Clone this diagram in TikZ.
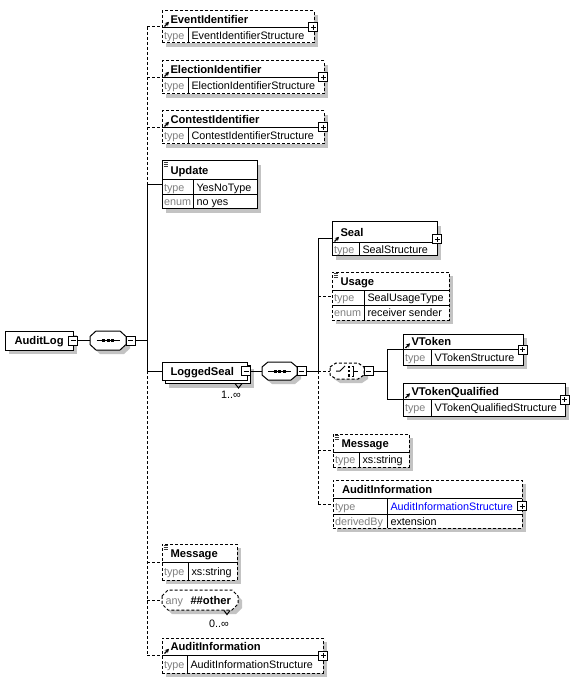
\documentclass[tikz,border=0pt]{standalone}
\usepackage{fontspec}
\setmainfont{Liberation Sans}
\usetikzlibrary{arrows.meta}
\definecolor{shadowc}{RGB}{195,195,195}
\definecolor{graytxt}{RGB}{128,128,128}
\definecolor{xsblue}{RGB}{0,0,255}
\definecolor{icong}{RGB}{60,60,60}
% element box with shadow: name, style, L, T, R, B
\newcommand\ebox[6]{%
  \fill[shadowc] (#3+4,#4+4) rectangle (#5+4,#6+4);
  \node[boxn,#2,minimum width={(#5-#3)*0.75pt},minimum height={(#6-#4)*0.75pt}] (#1) at ({(#3+#5)/2},{(#4+#6)/2}) {};}
\newcommand\hd[3]{\draw (#1,#3) -- (#2,#3);}
\newcommand\vd[3]{\draw (#1,#2) -- (#1,#3);}
\newcommand\ttl[4]{\node[ttlf,anchor=base west] (#1) at (#2,#3) {#4};}
\newcommand\trow[6]{\node[lblf,anchor=base west] (#1l) at (#2+1.5,#4) {#5};\node[valf,anchor=base west] (#1v) at (#3+3,#4) {#6};}
\newcommand\plusb[3]{\node[btn] (#1) at (#2,#3) {};\draw (#2-2.5,#3) -- (#2+2.5,#3) (#2,#3-2.5) -- (#2,#3+2.5);}
\newcommand\minusb[3]{\node[btn] (#1) at (#2,#3) {};\draw (#2-2.5,#3) -- (#2+2.5,#3);}
\newcommand\refic[2]{\draw[line width=0.9pt,-{Stealth[length=3pt,width=3.2pt]}] (#1+2.5,#2-1.5) -- (#1+7,#2-6.2);}
\newcommand\simic[2]{\draw[line width=0.55pt,icong] (#1+1.5,#2+1.8) -- +(4.5,0) (#1+1.5,#2+3.4) -- +(4.5,0) (#1+1.5,#2+5) -- +(4.5,0);}
\newcommand\octo[5]{\path[#1] (#2,{(#3+#5)/2-4}) -- (#2+6,#3) -- (#4-6,#3) -- (#4,{(#3+#5)/2-4}) -- (#4,{(#3+#5)/2+4}) -- (#4-6,#5) -- (#2+6,#5) -- (#2,{(#3+#5)/2+4}) -- cycle;}
\newcommand\seqsym[2]{\draw (#1-11.5,#2) -- (#1+11.5,#2);
  \fill (#1-6,#2-1.5) rectangle (#1-3,#2+1.5);
  \fill (#1-1.5,#2-1.5) rectangle (#1+1.5,#2+1.5);
  \fill (#1+3,#2-1.5) rectangle (#1+6,#2+1.5);}
\begin{document}
\begin{tikzpicture}[x=0.75pt,y=-0.75pt,line width=0.75pt,
  boxn/.style={draw,fill=white,inner sep=0,outer sep=0},
  dsh/.style={dash pattern=on 2.25pt off 1.5pt},
  btn/.style={draw,fill=white,inner sep=0,outer sep=0,minimum size=6.75pt,line width=0.75pt},
  inv/.style={inner sep=0,outer sep=0},
  ttlf/.style={font=\fontsize{8.4}{10}\selectfont\bfseries,inner sep=0},
  lblf/.style={font=\fontsize{8.1}{10}\selectfont,text=graytxt,inner sep=0},
  valf/.style={font=\fontsize{8.1}{10}\selectfont,inner sep=0}]
\useasboundingbox (0,0) rectangle (578,691);
\coordinate (bus1) at (147,0);
\coordinate (bus2) at (318,0);
\coordinate (bus3) at (387,0);

% ---------- root ----------
\ebox{root}{}{5}{331}{73}{350}
\ttl{roott}{14}{344.5}{AuditLog}
\minusb{rootm}{73}{340.5}

% sequence 1
\octo{fill=shadowc,shift={(4,4)}}{90}{331}{126}{350}
\octo{draw,fill=white}{90}{331}{126}{350}
\node[inv,minimum width={36*0.75pt},minimum height={19*0.75pt}] (seq1) at (108,340.5) {};
\seqsym{108}{340.5}
\minusb{s1m}{130.5}{340.5}

% ---------- level 1 ----------
\ebox{ev}{dsh}{162}{11}{314}{43}
\hd{162}{314}{28}\vd{188}{28}{43}
\refic{162}{28}
\ttl{evt}{170}{23.5}{EventIdentifier}
\trow{evr}{162}{188}{39.5}{type}{EventIdentifierStructure}
\plusb{evp}{313}{27.5}

\ebox{el}{dsh}{162}{61}{324}{94}
\hd{162}{324}{78}\vd{188}{78}{94}
\refic{162}{78}
\ttl{elt}{170}{73.5}{ElectionIdentifier}
\trow{elr}{162}{188}{90}{type}{ElectionIdentifierStructure}
\plusb{elp}{323}{77.5}

\ebox{ct}{dsh}{162}{111}{324}{144}
\hd{162}{324}{128}\vd{188}{128}{144}
\refic{162}{128}
\ttl{ctt}{170}{123.5}{ContestIdentifier}
\trow{ctr}{162}{188}{140}{type}{ContestIdentifierStructure}
\plusb{ctp}{323}{127.5}

\ebox{upd}{}{162}{161}{257}{209}
\hd{162}{257}{180}\hd{162}{257}{194.5}\vd{193}{180}{209}
\simic{162}{161}
\ttl{updt}{170}{174.5}{Update}
\trow{upa}{162}{193}{191.25}{type}{YesNoType}
\trow{upb}{162}{193}{205.75}{enum}{no yes}

% LoggedSeal (multiple)
\fill[shadowc] (169,369) rectangle (254,388);
\node[boxn,minimum width={85*0.75pt},minimum height={18*0.75pt}] (lsback) at (207.5,374) {};
\node[boxn,minimum width={85*0.75pt},minimum height={18*0.75pt}] (ls) at (204.5,371) {};
\ttl{lst}{170}{375}{LoggedSeal}
\minusb{lsm}{246}{371}
\draw (235,383.5) -- (238.5,388) -- (242,383.5);
\node[valf] (lsc) at (231,394.5) {1..∞};

\ebox{ml}{dsh}{162}{544}{237}{580}
\hd{162}{237}{562}\vd{188}{562}{580}
\simic{162}{544}
\ttl{mlt}{170}{557}{Message}
\trow{mlr}{162}{188}{575}{type}{xs:string}

\octo{fill=shadowc,shift={(4,4)}}{162}{590}{238}{610}
\octo{draw,dsh,fill=white}{162}{590}{238}{610}
\node[inv,minimum width={76*0.75pt},minimum height={20*0.75pt}] (any) at (200,600) {};
\node[lblf,anchor=base west] (anyl) at (165,604) {any};
\node[ttlf,anchor=base west] (anyt) at (190,604) {\#\#other};
\draw (224,610.5) -- (227,614.5) -- (230,610.5);
\node[valf] (anyc) at (219,624) {0..∞};

\ebox{ail}{dsh}{162}{638}{323}{673}
\hd{162}{323}{655}\vd{187}{655}{673}
\refic{162}{655}
\ttl{ailt}{170}{650.5}{AuditInformation}
\trow{ailr}{162}{187}{668}{type}{AuditInformationStructure}
\plusb{ailp}{323}{655.5}

% ---------- level 2 ----------
\octo{fill=shadowc,shift={(4,4)}}{262}{362}{297}{380}
\octo{draw,fill=white}{262}{362}{297}{380}
\node[inv,minimum width={35*0.75pt},minimum height={18*0.75pt}] (seq2) at (279.5,371) {};
\seqsym{279.5}{371}
\minusb{s2m}{301.5}{371}

\ebox{seal}{}{332}{222}{437}{256}
\hd{332}{437}{243}\vd{359}{243}{256}
\refic{332}{243}
\ttl{sealt}{340}{236.5}{Seal}
\trow{sealr}{332}{359}{253.5}{type}{SealStructure}
\plusb{sealp}{437}{239.5}

\ebox{us}{dsh}{332}{272}{449}{320}
\hd{332}{449}{290}\hd{332}{449}{305.5}\vd{364}{290}{320}
\simic{332}{272}
\ttl{ust}{340}{285}{Usage}
\trow{usa}{332}{364}{301.75}{type}{SealUsageType}
\trow{usb}{332}{364}{316.75}{enum}{receiver sender}

% choice
\octo{fill=shadowc,shift={(4,4)}}{330}{363}{364}{379}
\octo{draw,dsh,fill=white}{330}{363}{364}{379}
\node[inv,minimum width={34*0.75pt},minimum height={16*0.75pt}] (ch) at (347,371) {};
\draw (336,371) -- (340,371) -- (345,366);
\fill (347.5,365.5) rectangle (350,368);
\fill (347.5,369.8) rectangle (350,372.3);
\fill (347.5,374) rectangle (350,376.5);
\draw (351.5,366.5) -- (353.5,366.5) -- (353.5,376) -- (351.5,376);
\draw (353.5,371) -- (358,371);
\minusb{chm}{368.5}{371}

\ebox{mr}{dsh}{333}{434}{409}{467}
\hd{333}{409}{452}\vd{359}{452}{467}
\simic{333}{434}
\ttl{mrt}{341}{447}{Message}
\trow{mrr}{333}{359}{463.5}{type}{xs:string}

\ebox{air}{dsh}{333}{480}{522}{528}
\hd{333}{522}{498}\hd{333}{522}{514}\vd{387}{498}{528}
\ttl{airt}{341.5}{493}{AuditInformation}
\trow{aira}{333}{387}{510}{type}{\textcolor{xsblue}{AuditInformationStructure}}
\trow{airb}{333}{387}{525}{derivedBy}{extension}
\plusb{airp}{522}{506}

% ---------- level 3 ----------
\ebox{vt}{}{403}{334}{523}{365}
\hd{403}{523}{349.5}\vd{431}{349.5}{365}
\refic{403}{349.5}
\ttl{vtt}{411}{345.75}{VToken}
\trow{vtr}{403}{431}{361.25}{type}{VTokenStructure}
\plusb{vtp}{522.5}{349.5}

\ebox{vq}{}{403}{383}{565}{416}
\hd{403}{565}{399.5}\vd{431}{399.5}{416}
\refic{403}{399.5}
\ttl{vqt}{411}{395.25}{VTokenQualified}
\trow{vqr}{403}{431}{411.75}{type}{VTokenQualifiedStructure}
\plusb{vqp}{564.5}{399.5}

% ---------- connectors ----------
\draw (rootm.east) -- (seq1.west);
\draw (s1m.east) -- (s1m.east -| bus1);
\draw[dsh] (ev.west -| bus1) -- (upd.west -| bus1);
\draw (upd.west -| bus1) -- (ls.west -| bus1);
\draw[dsh] (ls.west -| bus1) -- (ail.west -| bus1);
\draw[dsh] (ev.west -| bus1) -- (ev.west);
\draw[dsh] (el.west -| bus1) -- (el.west);
\draw[dsh] (ct.west -| bus1) -- (ct.west);
\draw (upd.west -| bus1) -- (upd.west);
\draw (ls.west -| bus1) -- (ls.west);
\draw[dsh] (ml.west -| bus1) -- (ml.west);
\draw[dsh] (any.west -| bus1) -- (any.west);
\draw[dsh] (ail.west -| bus1) -- (ail.west);

\draw (lsm.east) -- (seq2.west);
\draw (s2m.east) -- (s2m.east -| bus2);
\draw (seal.west -| bus2) -- (s2m.east -| bus2);
\draw[dsh] (s2m.east -| bus2) -- (air.west -| bus2);
\draw (seal.west -| bus2) -- (seal.west);
\draw[dsh] (us.west -| bus2) -- (us.west);
\draw[dsh] (ch.west -| bus2) -- (ch.west);
\draw[dsh] (mr.west -| bus2) -- (mr.west);
\draw[dsh] (air.west -| bus2) -- (air.west);

\draw (chm.east) -- (chm.east -| bus3);
\draw (vt.west -| bus3) -- (vq.west -| bus3);
\draw (vt.west -| bus3) -- (vt.west);
\draw (vq.west -| bus3) -- (vq.west);
\end{tikzpicture}
\end{document}
